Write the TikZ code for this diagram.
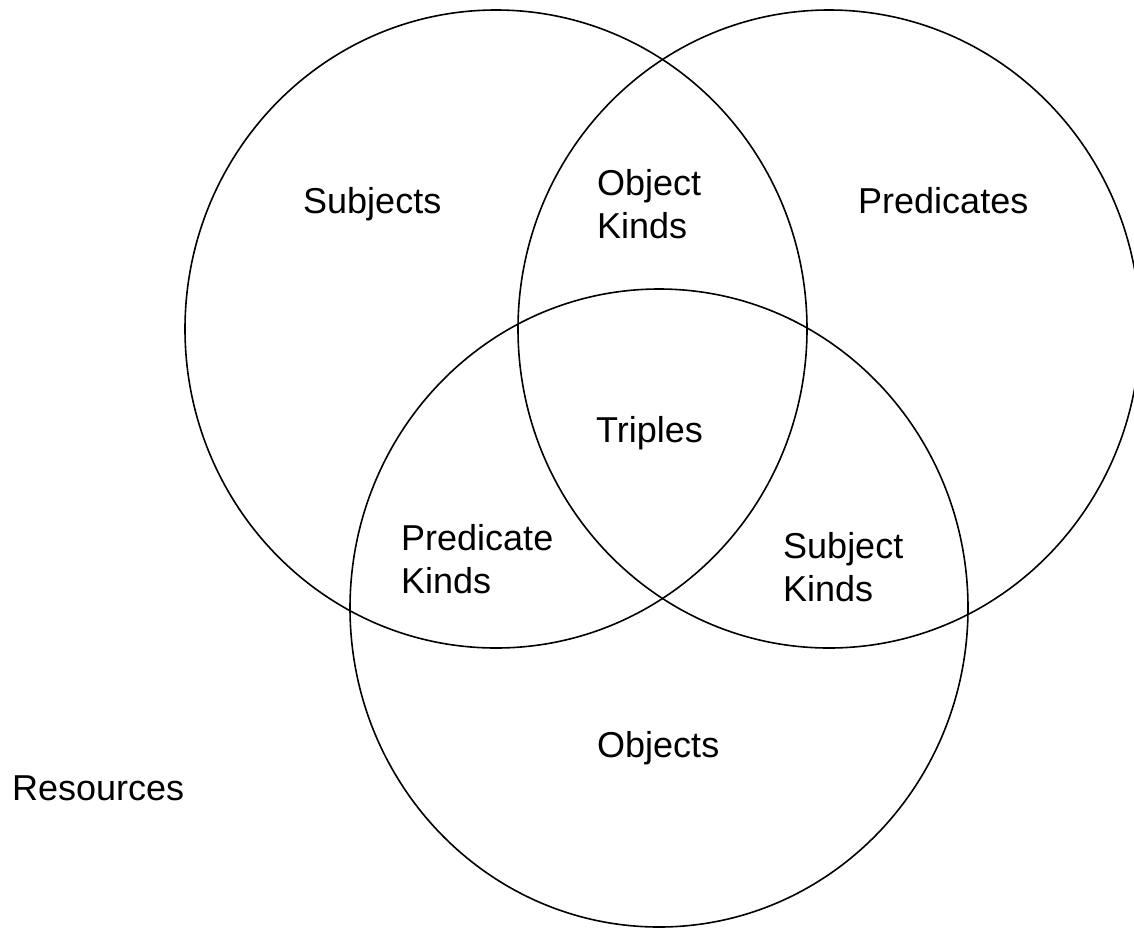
\documentclass[tikz,border=0pt]{standalone}
\usepackage{fontspec}
\setmainfont{Liberation Sans}
\usetikzlibrary{shapes.geometric}
\tikzstyle{set} = [ellipse,
minimum width=622pt,
minimum height=638pt,
inner sep=0pt,
draw=black,
line width=1.6pt]
\tikzstyle{region} = [font=\fontsize{36}{43}\selectfont,
inner sep=0pt,
align=left,
anchor=base west]

\begin{document}
\begin{tikzpicture}[x=1pt, y=-1pt]
			\useasboundingbox (0,0) rectangle (1134,930);
			% the three sets
			\node (subjects) [set] at (496,329) {};
			\node (predicates) [set] at (829,329) {};
			\node (objects) [set, minimum width=618pt] at (659,608) {};

			% what lies in each part (two-line labels sit on their last line)
			\node (subj) [region] at (303,213) {Subjects};
			\node (pred) [region] at (858,213) {Predicates};
			\node (objk) [region] at (597,238) {Object\\Kinds};
			\node (trip) [region] at (596,442) {Triples};
			\node (predk) [region] at (401,593) {Predicate\\Kinds};
			\node (subjk) [region] at (783,601) {Subject\\Kinds};
			\node (obj) [region] at (597,757) {Objects};
			\node (res) [region] at (12,800) {Resources};
		\end{tikzpicture}
\end{document}
